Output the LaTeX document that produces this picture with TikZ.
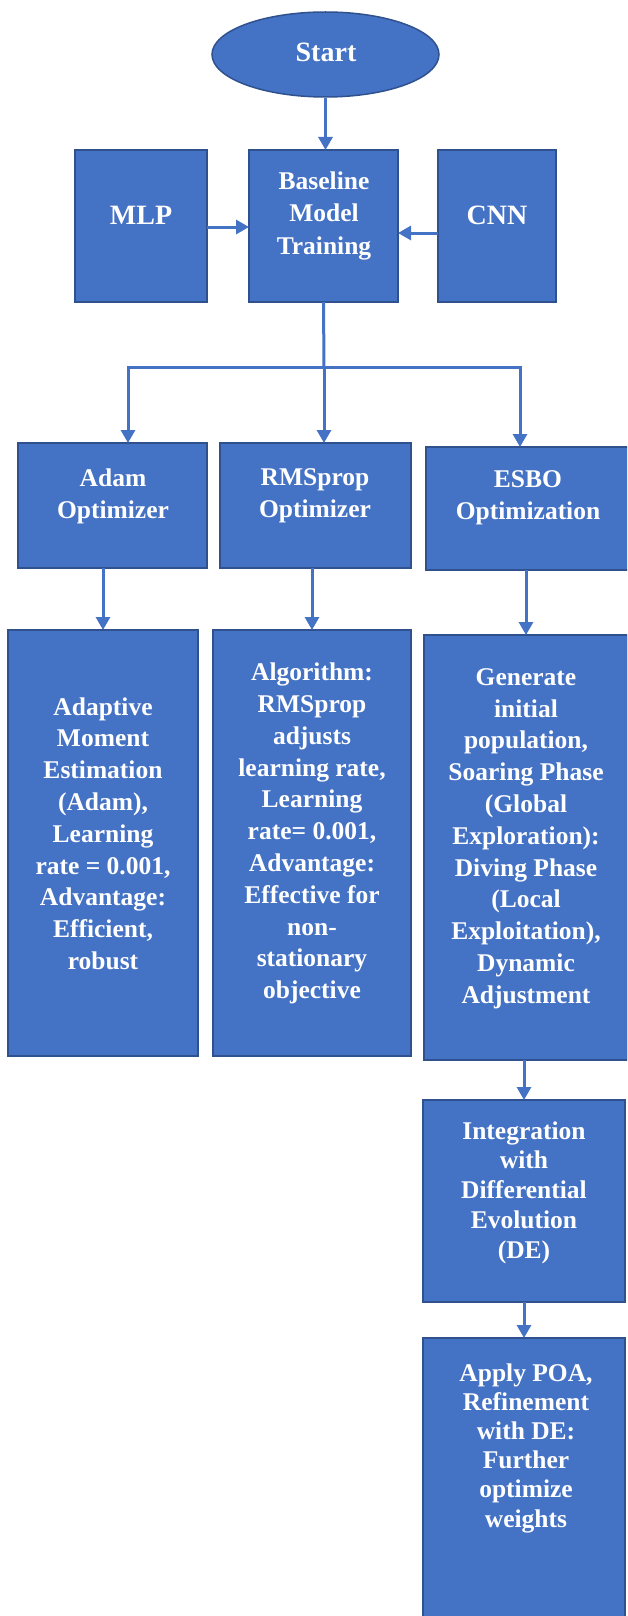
\documentclass[tikz,border=0pt]{standalone}
\usepackage{fontspec}
\setmainfont{Liberation Serif}
\usetikzlibrary{arrows.meta,shapes.geometric}
\definecolor{boxblue}{HTML}{4472C4}
\definecolor{boxedge}{HTML}{2F528F}
\begin{document}
\begin{tikzpicture}[x=1pt,y=-1pt,
  box/.style={draw=boxedge, fill=boxblue, line width=1.5pt, inner sep=0pt, outer sep=0pt, anchor=north west},
  txt/.style={text=white, font=\bfseries\fontsize{25.5}{31.8}\selectfont, align=center, inner sep=0pt},
  bigtxt/.style={text=white, font=\bfseries\fontsize{28}{33}\selectfont, align=center, inner sep=0pt},
  arr/.style={draw=boxblue, line width=3pt, -{Triangle[width=14pt,length=13pt]}},
  ln/.style={draw=boxblue, line width=3pt}]
\useasboundingbox (0,0) rectangle (627,1616);
\clip (0,0) rectangle (627,1616);

% Start
\node[ellipse, draw=boxedge, fill=boxblue, line width=1.5pt, inner sep=0pt, minimum width=227pt, minimum height=85pt] (start) at (325.5,54.5) {};
\node[bigtxt] (startt) at (326,52) {Start};

% Row 1
\node[box, minimum width=132pt, minimum height=152pt] (mlp) at (75,150) {};
\node[bigtxt] (mlpt) at (141,215) {MLP};
\node[box, minimum width=149pt, minimum height=152pt] (base) at (249,150) {};
\node[txt, font=\bfseries\fontsize{25.5}{32.5}\selectfont] (baset) at (324,215.5) {Baseline\\Model\\Training};
\node[box, minimum width=118pt, minimum height=152pt] (cnn) at (438,150) {};
\node[bigtxt] (cnnt) at (497,215) {CNN};

% Row 2
\node[box, minimum width=189pt, minimum height=125pt] (adam) at (18,443) {};
\node[txt] (adamt) at (113,496) {Adam\\Optimizer};
\node[box, minimum width=191pt, minimum height=125pt] (rms) at (220,443) {};
\node[txt] (rmst) at (315,496) {RMSprop\\Optimizer};
\node[box, minimum width=204pt, minimum height=123pt] (esbo) at (426,447) {};
\node[txt] (esbot) at (528,498) {ESBO\\Optimization};

% Row 3
\node[box, minimum width=190pt, minimum height=426pt] (adamd) at (8,630) {};
\node[txt] (adamdt) at (103,833.5) {Adaptive\\Moment\\Estimation\\(Adam),\\Learning\\rate = 0.001,\\Advantage:\\Efficient,\\robust};
\node[box, minimum width=198pt, minimum height=426pt] (rmsd) at (213,630) {};
\node[txt] (rmsdt) at (312,833.5) {Algorithm:\\RMSprop\\adjusts\\learning rate,\\Learning\\rate= 0.001,\\Advantage:\\Effective for\\non-\\stationary\\objective};
\node[box, minimum width=204pt, minimum height=425pt] (esbod) at (424,635) {};
\node[txt] (esbodt) at (526,838.5) {Generate\\initial\\population,\\Soaring Phase\\(Global\\Exploration):\\Diving Phase\\(Local\\Exploitation),\\Dynamic\\Adjustment};

% Row 4, 5
\node[box, minimum width=202pt, minimum height=202pt] (integ) at (423,1100) {};
\node[txt, font=\bfseries\fontsize{25.5}{29.8}\selectfont] (integt) at (524,1192.5) {Integration\\with\\Differential\\Evolution\\(DE)};
\node[box, minimum width=202pt, minimum height=300pt] (apply) at (423,1338) {};
\node[txt, font=\bfseries\fontsize{25.5}{29.2}\selectfont] (applyt) at (526,1448) {Apply POA,\\Refinement\\with DE:\\Further\\optimize\\weights};

% Connectors
\draw[arr] (start.south) -- (start.south |- base.north);
\coordinate (mlpy) at (0,227);
\coordinate (cnny) at (0,233);
\draw[arr] (mlp.east |- mlpy) -- (base.west |- mlpy);
\draw[arr] (cnn.west |- cnny) -- (base.east |- cnny);

\coordinate (split) at (324,367);
\coordinate (sa) at (128,367);
\coordinate (se) at (520,367);
\draw[ln] (base.south) -- (split);
\draw[arr] (split) -| (sa |- adam.north);
\draw[arr] (split) -| (se |- esbo.north);
\draw[arr] (split) -- (split |- rms.north);

\draw[arr] (adamd.north |- adam.south) -- (adamd.north);
\draw[arr] (rmsd.north |- rms.south) -- (rmsd.north);
\draw[arr] (esbod.north |- esbo.south) -- (esbod.north);
\draw[arr] (integ.north |- esbod.south) -- (integ.north);
\draw[arr] (integ.south) -- (apply.north);
\end{tikzpicture}
\end{document}
